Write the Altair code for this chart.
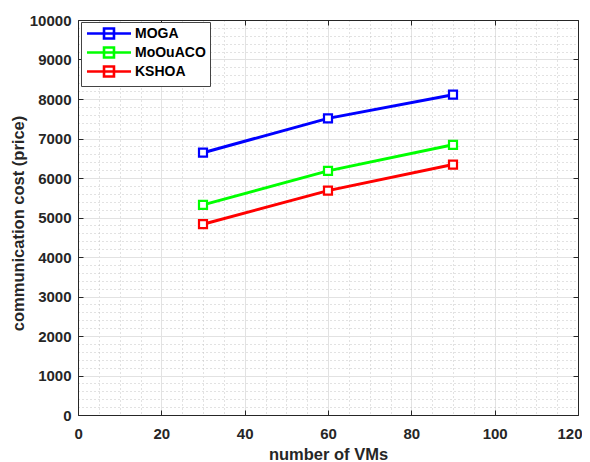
import altair as alt
import pandas as pd

vms = [30, 60, 90]
series = ["MOGA", "MoOuACO", "KSHOA"]
moga = [6640, 7510, 8110]
moouaco = [5320, 6180, 6840]
kshoa = [4830, 5680, 6340]
colors = ["#0000ff", "#00ff00", "#ff0000"]

x_major = [0, 20, 40, 60, 80, 100, 120]
y_major = [0, 1000, 2000, 3000, 4000, 5000, 6000, 7000, 8000, 9000, 10000]
x_minor = [5, 10, 15, 25, 30, 35, 45, 50, 55, 65, 70, 75, 85, 90, 95, 105, 110, 115]
y_minor = [v + d for v in y_major[:-1] for d in (200, 400, 600, 800)]

rows = []
for name, vals in zip(series, [moga, moouaco, kshoa]):
    for x, y in zip(vms, vals):
        rows.append({"vms": x, "cost": y, "series": name})
df = pd.DataFrame(rows)

W, H = 500, 395
FONT = "Liberation Sans"
DARK = "#262626"

# legend symbol: a 44px line with a 10px square, drawn in a 12px symbol cell
LEG_SYMBOL = ("M-0.92,0H6.42"
              "M1.92,-0.83H3.58V0.83H1.92Z")

xs = alt.Scale(domain=[0, 120], nice=False, zero=False)
ys = alt.Scale(domain=[0, 10000], nice=False, zero=False)

base = alt.Chart(df)

minor = base.mark_point(opacity=0).encode(
    x=alt.X("vms:Q", scale=xs, axis=alt.Axis(
        orient="bottom", values=x_minor, grid=True, gridDash=[1, 3],
        gridColor="#c4c4c4", gridWidth=1, labels=False, ticks=False,
        domain=False, title=None)),
    y=alt.Y("cost:Q", scale=ys, axis=alt.Axis(
        orient="left", values=y_minor, grid=True, gridDash=[1, 3],
        gridColor="#c4c4c4", gridWidth=1, labels=False, ticks=False,
        domain=False, title=None)),
)

main = base.mark_line(
    strokeWidth=3,
    point=alt.OverlayMarkDef(shape="square", filled=False, fill="white",
                             size=64, strokeWidth=2.2),
).encode(
    x=alt.X("vms:Q", scale=xs, axis=alt.Axis(
        orient="bottom", values=x_major, grid=True, gridColor="#e2e2e2",
        gridWidth=1, ticks=False, tickSize=0, domain=True, domainColor=DARK,
        labelFont=FONT, labelFontSize=15, labelFontWeight="bold",
        labelColor=DARK, labelPadding=11, labelFlush=True,
        labelFlushOffset=4,
        title="number of VMs", titleFont=FONT, titleFontSize=16.5,
        titleFontWeight="bold", titleColor=DARK, titlePadding=5)),
    y=alt.Y("cost:Q", scale=ys, axis=alt.Axis(
        orient="left", values=y_major, format="d", grid=True,
        gridColor="#e2e2e2", gridWidth=1, ticks=False, tickSize=0,
        domain=True, domainColor=DARK, labelFont=FONT, labelFontSize=15,
        labelFontWeight="bold", labelColor=DARK, labelPadding=7,
        labelFlush=False, title="communication cost (price)",
        titleFont=FONT, titleFontSize=16.5, titleFontWeight="bold",
        titleColor=DARK, titlePadding=3, titleY=203)),
    color=alt.Color("series:N", scale=alt.Scale(domain=series, range=colors),
                    legend=alt.Legend(
                        title=None, orient="none", legendX=3, legendY=2,
                        symbolType=LEG_SYMBOL,
                        symbolSize=144, symbolStrokeWidth=2.6,
                        symbolFillColor="white",
                        labelFont=FONT, labelFontSize=14,
                        labelFontWeight="bold", labelColor="#000000",
                        labelOffset=35, padding=4, rowPadding=-2,
                        strokeColor="#444444", fillColor="white")),
)

ticks_a = base.mark_point(opacity=0).encode(
    x=alt.X("vms:Q", scale=xs, axis=alt.Axis(
        orient="top", offset=-H, values=x_major, grid=False, labels=False,
        ticks=True, tickSize=5, tickColor=DARK, domain=False, title=None)),
    y=alt.Y("cost:Q", scale=ys, axis=alt.Axis(
        orient="right", offset=-W, values=y_major, grid=False, labels=False,
        ticks=True, tickSize=5, tickColor=DARK, domain=False, title=None)),
)

ticks_b = base.mark_point(opacity=0).encode(
    x=alt.X("vms:Q", scale=xs, axis=alt.Axis(
        orient="bottom", offset=-H, values=x_major, grid=False, labels=False,
        ticks=True, tickSize=5, tickColor=DARK, domain=True,
        domainColor=DARK, title=None)),
    y=alt.Y("cost:Q", scale=ys, axis=alt.Axis(
        orient="left", offset=-W, values=y_major, grid=False, labels=False,
        ticks=True, tickSize=5, tickColor=DARK, domain=True,
        domainColor=DARK, title=None)),
)

chart = alt.layer(minor, main, ticks_a, ticks_b).resolve_scale(
    x="independent", y="independent"
).properties(
    width=W, height=H,
    autosize=alt.AutoSizeParams(type="none"),
    padding={"left": 70, "top": 12, "right": 4, "bottom": 46},
).configure_view(stroke="transparent").configure(background="white")

chart.save("out.html", embed_options={"renderer": "svg", "actions": False})
